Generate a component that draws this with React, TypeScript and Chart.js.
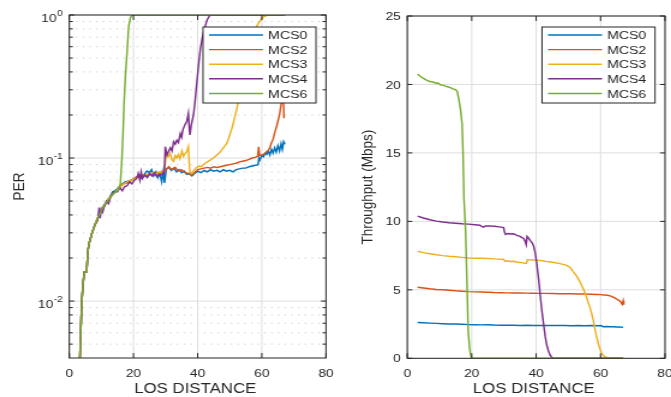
import React, { useEffect, useRef } from "react";
import { Chart, registerables } from "chart.js";
Chart.register(...registerables);

type Pt = [number, number];

const SERIES = ["MCS0", "MCS2", "MCS3", "MCS4", "MCS6"];
const COLORS = ["#0072BD", "#D95319", "#EDB120", "#7E2F8E", "#77AC30"];
const X_TICKS = [0, 20, 40, 60, 80];
const X_TITLE = "LOS DISTANCE";
const PER_TITLE = "PER";
const TPUT_TITLE = "Throughput (Mbps)";
const PER_DECADES = [0.01, 0.1, 1];
const PER_EXPONENTS = ["-2", "-1", "0"];
const PER_MINOR = [0.005, 0.006, 0.007, 0.008, 0.009, 0.02, 0.03, 0.04, 0.05, 0.06, 0.07, 0.08, 0.09, 0.2, 0.3, 0.4, 0.5, 0.6, 0.7, 0.8, 0.9];
const TPUT_TICKS = [0, 5, 10, 15, 20, 25];

// ---- PER (left) ----
const PER_MCS0: Pt[] = [
  [3.3, 0.004], [3.6, 0.0065], [3.9, 0.01], [4.3, 0.0135], [4.7, 0.016], [5.4, 0.016], [5.8, 0.0227], [6.3, 0.026], [7.1, 0.03], [8.0, 0.034],
  [8.6, 0.037], [9.1, 0.0385], [9.6, 0.042], [10.2, 0.0435], [10.8, 0.047], [11.4, 0.048], [12.2, 0.052], [12.8, 0.054], [13.5, 0.058], [14.2, 0.059],
  [15.0, 0.061], [15.8, 0.064], [16.6, 0.066], [17.4, 0.068], [18.3, 0.069], [19.2, 0.07], [20.0, 0.071], [21.0, 0.074], [22.0, 0.076], [22.6, 0.072],
  [23.4, 0.077], [24.2, 0.081], [25.0, 0.079], [25.6, 0.083], [26.3, 0.075], [27.0, 0.08], [27.6, 0.073], [28.2, 0.078], [28.8, 0.068], [29.3, 0.08],
  [29.7, 0.067], [30.2, 0.084], [31.0, 0.086], [31.8, 0.082], [32.6, 0.085], [33.4, 0.08], [34.2, 0.083], [35.0, 0.079], [35.8, 0.081], [36.6, 0.077],
  [37.4, 0.078], [38.2, 0.075], [39.0, 0.078], [40.0, 0.081], [41.0, 0.079], [42.0, 0.082], [43.0, 0.08], [44.0, 0.083], [45.0, 0.081], [46.0, 0.082],
  [47.0, 0.08], [48.0, 0.083], [49.0, 0.081], [50.0, 0.082], [51.0, 0.08], [52.0, 0.083], [53.0, 0.084], [54.0, 0.085], [55.0, 0.085], [56.0, 0.087],
  [57.0, 0.088], [58.0, 0.089], [58.8, 0.09], [59.1, 0.1], [59.4, 0.097], [60.0, 0.104], [60.5, 0.102], [61.0, 0.108], [61.5, 0.106], [62.0, 0.112],
  [62.5, 0.105], [63.0, 0.115], [63.5, 0.108], [64.0, 0.118], [64.5, 0.11], [65.0, 0.122], [65.5, 0.112], [66.0, 0.126], [66.4, 0.115], [66.8, 0.13], [67.2, 0.125],
];
const PER_MCS2: Pt[] = [
  [3.3, 0.004], [3.6, 0.0065], [3.9, 0.01], [4.3, 0.0134], [4.7, 0.016], [5.4, 0.016], [5.8, 0.0226], [6.3, 0.026], [7.1, 0.03], [8.0, 0.034],
  [8.6, 0.036], [9.1, 0.039], [9.6, 0.041], [10.2, 0.044], [11.0, 0.046], [11.6, 0.049], [12.2, 0.051], [13.0, 0.055], [14.0, 0.057], [15.0, 0.06],
  [16.0, 0.064], [17.0, 0.066], [18.0, 0.067], [19.0, 0.069], [20.0, 0.072], [21.0, 0.074], [22.0, 0.073], [23.0, 0.076], [24.0, 0.075], [25.0, 0.078],
  [26.0, 0.077], [27.0, 0.079], [28.0, 0.078], [29.0, 0.081], [30.2, 0.083], [31.0, 0.087], [32.0, 0.083], [33.0, 0.086], [34.0, 0.081], [35.0, 0.083],
  [36.0, 0.079], [37.0, 0.078], [38.0, 0.076], [39.0, 0.079], [40.0, 0.083], [41.0, 0.084], [42.0, 0.085], [43.0, 0.086], [44.0, 0.085], [45.0, 0.087],
  [46.0, 0.086], [47.0, 0.087], [48.0, 0.088], [49.0, 0.089], [50.0, 0.09], [51.0, 0.091], [52.0, 0.092], [53.0, 0.094], [54.0, 0.095], [55.0, 0.096],
  [56.0, 0.098], [57.0, 0.1], [58.0, 0.101], [58.7, 0.103], [59.0, 0.12], [59.3, 0.104], [60.0, 0.105], [61.0, 0.108], [61.5, 0.111], [62.0, 0.113],
  [62.6, 0.12], [63.0, 0.128], [63.5, 0.135], [64.0, 0.15], [64.6, 0.166], [65.0, 0.18], [65.5, 0.2], [65.9, 0.23], [66.2, 0.25], [66.5, 0.3], [66.7, 0.26], [66.9, 0.19],
];
const PER_MCS3: Pt[] = [
  [3.3, 0.004], [3.6, 0.0065], [3.9, 0.01], [4.3, 0.0136], [4.7, 0.016], [5.4, 0.016], [5.8, 0.0228], [6.3, 0.026], [7.1, 0.03], [8.0, 0.034],
  [8.6, 0.037], [9.1, 0.039], [9.6, 0.042], [10.2, 0.044], [11.0, 0.047], [11.6, 0.049], [12.2, 0.052], [13.0, 0.054], [14.0, 0.057], [15.0, 0.06],
  [16.0, 0.063], [17.0, 0.066], [18.0, 0.068], [19.0, 0.07], [20.0, 0.071], [21.0, 0.073], [22.0, 0.075], [23.0, 0.074], [24.0, 0.077], [25.0, 0.076],
  [26.0, 0.079], [27.0, 0.077], [28.0, 0.08], [29.0, 0.079], [29.6, 0.081], [30.0, 0.095], [30.3, 0.11], [30.8, 0.102], [31.4, 0.108], [32.0, 0.097],
  [32.5, 0.095], [33.0, 0.104], [33.5, 0.1], [34.0, 0.106], [34.5, 0.099], [35.1, 0.112], [35.6, 0.103], [36.0, 0.107], [36.5, 0.11], [37.1, 0.12],
  [37.4, 0.09], [37.6, 0.08], [38.2, 0.078], [38.8, 0.082], [39.7, 0.086], [40.5, 0.088], [41.2, 0.087], [42.0, 0.091], [43.0, 0.094], [44.0, 0.097],
  [44.9, 0.1], [45.8, 0.104], [46.6, 0.108], [47.4, 0.113], [48.3, 0.12], [49.1, 0.127], [49.7, 0.138], [50.2, 0.15], [50.7, 0.162], [51.1, 0.175],
  [51.7, 0.2], [52.2, 0.22], [52.7, 0.25], [53.2, 0.3], [53.6, 0.35], [54.3, 0.43], [54.9, 0.5], [55.6, 0.58], [56.4, 0.65], [57.4, 0.74],
  [58.2, 0.82], [59.0, 0.88], [59.8, 0.93], [60.5, 0.97], [61.5, 0.99], [62.4, 1.0], [67.2, 1.0],
];
const PER_MCS4: Pt[] = [
  [3.3, 0.004], [3.6, 0.0066], [3.9, 0.01], [4.3, 0.0133], [4.7, 0.016], [5.4, 0.016], [5.8, 0.0225], [6.3, 0.026], [7.1, 0.03], [8.0, 0.0345],
  [8.6, 0.036], [9.0, 0.039], [9.3, 0.045], [9.6, 0.038], [10.0, 0.044], [10.4, 0.042], [11.0, 0.047], [11.6, 0.05], [12.2, 0.048], [12.8, 0.053],
  [13.5, 0.056], [14.2, 0.058], [15.0, 0.058], [15.8, 0.062], [16.5, 0.059], [17.2, 0.063], [18.0, 0.064], [18.8, 0.068], [19.5, 0.066], [20.3, 0.07],
  [21.0, 0.072], [21.5, 0.078], [22.0, 0.07], [22.4, 0.08], [22.8, 0.072], [23.5, 0.076], [24.3, 0.073], [25.0, 0.078], [25.8, 0.075], [26.5, 0.079],
  [27.3, 0.074], [28.0, 0.077], [28.6, 0.076], [29.2, 0.079], [29.6, 0.078], [29.9, 0.12], [30.4, 0.105], [31.0, 0.112], [31.5, 0.118], [32.0, 0.112],
  [32.5, 0.13], [33.0, 0.125], [33.5, 0.133], [34.0, 0.128], [34.6, 0.148], [35.0, 0.14], [35.4, 0.158], [36.1, 0.172], [36.6, 0.18], [37.1, 0.205],
  [37.4, 0.16], [37.6, 0.145], [38.0, 0.17], [38.7, 0.2], [39.2, 0.25], [39.7, 0.33], [40.2, 0.43], [40.8, 0.57], [41.5, 0.7], [42.3, 0.83],
  [43.0, 0.93], [43.9, 1.0], [67.2, 1.0],
];
const PER_MCS6: Pt[] = [
  [3.3, 0.004], [3.6, 0.0065], [3.9, 0.01], [4.3, 0.0135], [4.7, 0.016], [5.4, 0.016], [5.8, 0.0227], [6.3, 0.026], [7.1, 0.03], [8.0, 0.034],
  [8.6, 0.037], [9.1, 0.039], [9.6, 0.041], [10.2, 0.044], [11.0, 0.047], [11.6, 0.049], [12.2, 0.051], [13.0, 0.054], [14.0, 0.057], [15.3, 0.06],
  [15.9, 0.066], [16.4, 0.1], [16.8, 0.16], [17.1, 0.25], [17.5, 0.38], [18.0, 0.55], [18.5, 0.83], [19.0, 0.95], [19.5, 1.0], [67.2, 1.0],
];

// ---- Throughput (right) ----
const TPUT_MCS0: Pt[] = [
  [3.2, 2.61], [5, 2.59], [7, 2.57], [9, 2.55], [11, 2.53], [13, 2.51], [15, 2.5], [17, 2.48], [19, 2.46], [21, 2.45], [23, 2.44], [25, 2.45],
  [27, 2.43], [29, 2.42], [31, 2.42], [33, 2.41], [35, 2.4], [37, 2.41], [39, 2.39], [41, 2.39], [43, 2.4], [45, 2.39], [47, 2.39], [49, 2.39],
  [51, 2.38], [53, 2.39], [55, 2.38], [57, 2.39], [59, 2.38], [60, 2.39], [60.9, 2.31], [62, 2.32], [63, 2.3], [64, 2.31], [65, 2.28], [66, 2.29], [67, 2.26],
];
const TPUT_MCS2: Pt[] = [
  [3.2, 5.19], [5, 5.14], [7, 5.08], [9, 5.03], [11, 5.0], [13, 4.97], [15, 4.93], [17, 4.9], [19, 4.87], [21, 4.85], [23, 4.84], [25, 4.82],
  [27, 4.8], [29, 4.79], [31, 4.78], [33, 4.77], [35, 4.78], [37, 4.76], [39, 4.75], [41, 4.74], [43, 4.74], [45, 4.73], [47, 4.72], [49, 4.72],
  [51, 4.71], [53, 4.7], [55, 4.69], [57, 4.68], [59, 4.66], [60, 4.65], [61, 4.63], [62, 4.6], [63, 4.56], [63.5, 4.5], [64, 4.46], [64.5, 4.4],
  [65, 4.33], [65.5, 4.25], [66, 4.18], [66.4, 4.05], [66.7, 3.95], [67, 4.2], [67.2, 3.92],
];
const TPUT_MCS3: Pt[] = [
  [3.2, 7.82], [5, 7.72], [7, 7.64], [9, 7.56], [11, 7.5], [13, 7.45], [15, 7.41], [17, 7.37], [19, 7.33], [21, 7.31], [23, 7.3], [25, 7.29],
  [27, 7.26], [29, 7.24], [29.9, 7.22], [30.4, 7.08], [31, 7.12], [32, 7.07], [33, 7.09], [34, 7.03], [35, 7.0], [36, 6.97], [36.6, 6.92], [37.0, 6.95],
  [37.3, 7.2], [38, 7.19], [39, 7.18], [40, 7.17], [41, 7.15], [42, 7.12], [43, 7.08], [44, 7.05], [45, 7.02], [46, 6.98], [47, 6.93], [48, 6.88],
  [49, 6.82], [50, 6.72], [50.5, 6.65], [51, 6.5], [51.6, 6.3], [52.1, 6.15], [52.6, 6.0], [53.2, 5.75], [53.8, 5.5], [54.2, 5.28], [54.7, 5.05],
  [55.2, 4.75], [55.7, 4.4], [56.2, 4.05], [56.7, 3.72], [57.2, 3.3], [57.8, 2.7], [58.3, 2.05], [58.8, 1.55], [59.3, 1.05], [59.8, 0.68],
  [60.3, 0.4], [60.8, 0.22], [61.3, 0.12], [61.9, 0.06], [62.5, 0.02], [63, 0], [65, 0], [67, 0],
];
const TPUT_MCS4: Pt[] = [
  [3.2, 10.38], [5, 10.25], [7, 10.12], [9, 10.02], [11, 9.95], [13, 9.9], [15, 9.86], [17, 9.82], [19, 9.8], [21, 9.76], [22.5, 9.72], [23.2, 9.62],
  [23.7, 9.58], [24.2, 9.66], [25.5, 9.67], [27, 9.64], [28.5, 9.6], [29.9, 9.55], [30.2, 9.2], [30.5, 9.05], [31.2, 9.12], [32, 9.08], [33, 9.1],
  [34, 8.98], [35, 8.9], [35.6, 8.82], [36.1, 8.75], [36.5, 8.6], [36.9, 8.3], [37.2, 8.9], [37.6, 8.8], [38.2, 8.6], [38.7, 8.45], [39.2, 8.2],
  [39.7, 7.7], [40.2, 6.9], [40.7, 5.9], [41.2, 4.75], [41.7, 3.6], [42.3, 2.5], [42.8, 1.6], [43.3, 0.95], [43.8, 0.55], [44.3, 0.25], [44.8, 0.08],
  [45.3, 0], [50, 0], [67, 0],
];
const TPUT_MCS6: Pt[] = [
  [3.2, 20.76], [4, 20.6], [5, 20.45], [6.1, 20.3], [7, 20.22], [8, 20.18], [9, 20.08], [9.5, 20.12], [10.2, 19.98], [11, 19.95], [12, 19.86],
  [13, 19.8], [14, 19.7], [14.9, 19.62], [15.5, 19.5], [16.0, 18.9], [16.5, 18.2], [17.0, 17.1], [17.3, 15.0], [17.6, 11.6], [18.1, 9.3],
  [18.5, 5.8], [18.9, 2.0], [19.3, 0.8], [19.6, 0.3], [20, 0], [67, 0],
];

const PER_DATA = [PER_MCS0, PER_MCS2, PER_MCS3, PER_MCS4, PER_MCS6];
const TPUT_DATA = [TPUT_MCS0, TPUT_MCS2, TPUT_MCS3, TPUT_MCS4, TPUT_MCS6];

const FONT = '"Liberation Sans", Arial, Helvetica, sans-serif';
const TEXT = "#262626";
const H = 397;
const LINE_W = 1.45;

interface Cfg {
  sx: number;
  log: boolean;
  yTitle: string;
  yTitleX: number;
}

function seg(ctx: CanvasRenderingContext2D, x1: number, y1: number, x2: number, y2: number) {
  ctx.beginPath();
  ctx.moveTo(x1, y1);
  ctx.lineTo(x2, y2);
  ctx.stroke();
}

function makeDecor(cfg: Cfg) {
  return {
    id: "decor",
    beforeDatasetsDraw(chart: any) {
      const { ctx, chartArea: a } = chart;
      const xs = chart.scales.x;
      const ys = chart.scales.y;
      ctx.save();
      ctx.lineWidth = 1;
      if (cfg.log) {
        ctx.strokeStyle = "#cdcdcd";
        ctx.setLineDash([1.2, 4.4]);
        for (const v of PER_MINOR) {
          const y = ys.getPixelForValue(v);
          seg(ctx, a.left, y, a.right, y);
        }
        ctx.setLineDash([]);
      }
      ctx.strokeStyle = "#dedede";
      const majors = cfg.log ? PER_DECADES : TPUT_TICKS;
      for (const v of majors) {
        const y = ys.getPixelForValue(v);
        seg(ctx, a.left, y, a.right, y);
      }
      for (const v of X_TICKS) {
        const x = xs.getPixelForValue(v);
        seg(ctx, x, a.top, x, a.bottom);
      }
      ctx.restore();
    },
    afterDatasetsDraw(chart: any) {
      const { ctx, chartArea: a } = chart;
      const xs = chart.scales.x;
      const ys = chart.scales.y;
      const sx = cfg.sx;
      ctx.save();
      ctx.strokeStyle = TEXT;
      ctx.lineWidth = 1;
      ctx.strokeRect(a.left, a.top, a.right - a.left, a.bottom - a.top);
      const majors = cfg.log ? PER_DECADES : TPUT_TICKS;
      const tMaj = 5 / sx;
      for (const v of majors) {
        const y = ys.getPixelForValue(v);
        seg(ctx, a.left, y, a.left + tMaj, y);
        seg(ctx, a.right, y, a.right - tMaj, y);
      }
      if (cfg.log) {
        const tMin = 3.5 / sx;
        for (const v of PER_MINOR) {
          const y = ys.getPixelForValue(v);
          seg(ctx, a.left, y, a.left + tMin, y);
          seg(ctx, a.right, y, a.right - tMin, y);
        }
      }
      for (const v of X_TICKS) {
        const x = xs.getPixelForValue(v);
        seg(ctx, x, a.bottom, x, a.bottom - 5);
        seg(ctx, x, a.top, x, a.top + 5);
      }
      ctx.fillStyle = TEXT;
      ctx.textBaseline = "alphabetic";
      ctx.font = `11.5px ${FONT}`;
      ctx.textAlign = "center";
      for (const v of X_TICKS) {
        ctx.fillText(String(v), xs.getPixelForValue(v), 376.8);
      }
      const xr = a.left - 6.5 / sx;
      if (cfg.log) {
        for (let i = 0; i < PER_DECADES.length; i++) {
          const y = ys.getPixelForValue(PER_DECADES[i]);
          ctx.textAlign = "right";
          ctx.font = `8.5px ${FONT}`;
          ctx.fillText(PER_EXPONENTS[i], xr, y + 1.2);
          const w = ctx.measureText(PER_EXPONENTS[i]).width;
          ctx.font = `11.5px ${FONT}`;
          ctx.fillText("10", xr - w - 0.4, y + 7.3);
        }
      } else {
        ctx.textAlign = "right";
        for (const v of TPUT_TICKS) {
          ctx.fillText(String(v), xr, ys.getPixelForValue(v) + 4.1);
        }
      }
      ctx.font = `14px ${FONT}`;
      ctx.textAlign = "center";
      ctx.fillText(X_TITLE, (a.left + a.right) / 2 - 2, 393.3);
      ctx.save();
      ctx.translate(cfg.yTitleX, (a.top + a.bottom) / 2);
      ctx.rotate(-Math.PI / 2);
      ctx.font = `13.5px ${FONT}`;
      ctx.textAlign = "center";
      ctx.fillText(cfg.yTitle, 0, 0);
      ctx.restore();
      // legend
      const bw = 113 / sx;
      const bh = 76;
      const bx = a.right - 10 / sx - bw;
      const by = 27;
      ctx.fillStyle = "#ffffff";
      ctx.fillRect(bx, by, bw, bh);
      ctx.strokeStyle = TEXT;
      ctx.lineWidth = 1;
      ctx.strokeRect(bx, by, bw, bh);
      ctx.font = `11.8px ${FONT}`;
      ctx.textAlign = "left";
      for (let i = 0; i < SERIES.length; i++) {
        const ry = by + 8 + i * 14.6;
        ctx.strokeStyle = COLORS[i];
        ctx.lineWidth = LINE_W;
        seg(ctx, bx + 6 / sx, ry, bx + 60 / sx, ry);
        ctx.fillStyle = TEXT;
        ctx.fillText(SERIES[i], bx + 65 / sx, ry + 4.2);
      }
      ctx.restore();
    },
  };
}

function makeConfig(data: Pt[][], log: boolean, sx: number, intW: number, extLeft: number, extRight: number, top: number, bottom: number, yTitle: string, yTitleX: number): any {
  const left = extLeft / sx;
  const right = intW - extRight / sx;
  return {
    type: "line",
    data: {
      datasets: SERIES.map((name, i) => ({
        label: name,
        data: data[i].map(([x, y]) => ({ x, y })),
        borderColor: COLORS[i],
        backgroundColor: COLORS[i],
        borderWidth: LINE_W,
        pointRadius: 0,
        fill: false,
        tension: 0,
        order: SERIES.length - 1 - i,
      })),
    },
    options: {
      responsive: false,
      animation: false,
      devicePixelRatio: 1,
      events: [],
      layout: { padding: { left, right, top, bottom: H - bottom } },
      scales: {
        x: { type: "linear", min: 0, max: 80, display: false },
        y: log
          ? { type: "logarithmic", min: 0.004, max: 1, display: false }
          : { type: "linear", min: 0, max: 25, display: false },
      },
      plugins: { legend: { display: false }, tooltip: { enabled: false }, title: { display: false } },
    },
    plugins: [makeDecor({ sx, log, yTitle, yTitleX })],
  };
}

const L_INT_W = 283;
const L_EXT_W = 340;
const R_INT_W = 276;
const R_EXT_W = 331;

export default function App() {
  const leftRef = useRef<HTMLCanvasElement>(null);
  const rightRef = useRef<HTMLCanvasElement>(null);
  useEffect(() => {
    const sxL = L_EXT_W / L_INT_W;
    const sxR = R_EXT_W / R_INT_W;
    const c1 = new Chart(leftRef.current!, makeConfig(PER_DATA, true, sxL, L_INT_W, 69.3, 326, 15, 358, PER_TITLE, 20.2));
    const c2 = new Chart(rightRef.current!, makeConfig(TPUT_DATA, false, sxR, R_INT_W, 67.3, 325, 16, 358.3, TPUT_TITLE, 27.3));
    return () => {
      c1.destroy();
      c2.destroy();
    };
  }, []);
  return (
    <div style={{ position: "fixed", left: 0, top: 0, width: 671, height: H, background: "#fff", overflow: "hidden" }}>
      <canvas ref={leftRef} width={L_INT_W} height={H} style={{ position: "absolute", left: 0, top: 0, width: `${L_EXT_W}px`, height: `${H}px` }} />
      <canvas ref={rightRef} width={R_INT_W} height={H} style={{ position: "absolute", left: L_EXT_W, top: 0, width: `${R_EXT_W}px`, height: `${H}px` }} />
    </div>
  );
}
